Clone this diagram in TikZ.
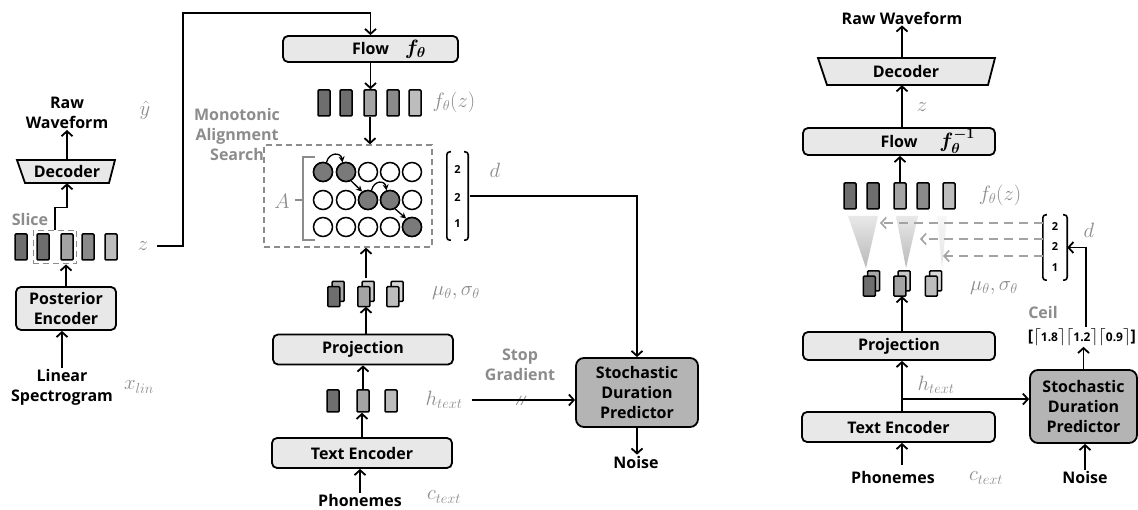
\documentclass[tikz,border=0pt]{standalone}
\usepackage{fontspec}
\setmainfont{Open Sans}
\usepackage{amsmath}
\usetikzlibrary{arrows.meta,fit,calc}
\definecolor{lab}{HTML}{8C8C8C}
\definecolor{boxfill}{HTML}{E8E8E8}
\definecolor{sdpfill}{HTML}{B4B4B4}
\definecolor{bdark}{HTML}{6E6E6E}
\definecolor{bmid}{HTML}{8A8A8A}
\definecolor{blight}{HTML}{A4A4A4}
\definecolor{bpale}{HTML}{BDBDBD}
\definecolor{cfill}{HTML}{7A7A7A}
\newcommand\bxfont{\fontsize{16}{20}\selectfont\bfseries}
\newcommand\mlfont{\fontsize{22}{24}\selectfont}
\newcommand\mystk[4]{%
  \node[inner sep=0pt, minimum width=16pt, minimum height=25pt] (#1) at (#2,#3) {};
  \draw[line width=1.5pt, fill=#4!60!white, rounded corners=1pt] (#1.north east) rectangle ++(-12,20);
  \draw[line width=1.5pt, fill=#4, rounded corners=1pt] (#1.south west) rectangle ++(12,-20);
}
\begin{document}
\begin{tikzpicture}[x=1pt,y=-1pt,
  arr/.style={line width=1.8pt, -{Straight Barb[length=5pt,width=11pt,line width=1.8pt]}},
  box/.style={draw, line width=1.8pt, rounded corners=5pt, fill=boxfill, inner sep=0pt, font=\bxfont, align=center},
  trap/.style={draw, line width=1.8pt, fill=boxfill},
  txt/.style={font=\bxfont, align=center, inner sep=1pt},
  gtxt/.style={txt, text=lab},
  mlab/.style={text=lab, font=\mlfont, inner sep=1pt},
  bar/.style={draw, line width=1.5pt, minimum width=12pt, minimum height=26pt, inner sep=0pt, rounded corners=1pt},
  circ/.style={circle, draw, line width=1.5pt, minimum size=19pt, inner sep=0pt},
  carr/.style={line width=1.3pt, -{Stealth[length=6pt,width=6pt]}},
  dsh/.style={draw=lab, line width=1.3pt, dash pattern=on 6pt off 4pt},
  darr/.style={draw=lab!80, line width=1.6pt, dash pattern=on 9pt off 6pt, -{Straight Barb[length=5pt,width=11pt,line width=1.6pt]}},
  num/.style={font=\fontsize{11}{11}\selectfont\bfseries, inner sep=0pt}
]
\fill[white] (0,0) rectangle (1138,510);
\path[use as bounding box] (0,0) rectangle (1138,510);

%================ LEFT: posterior branch
\node[txt] (rawL) at (67,113) {Raw\\Waveform};
\node[mlab] (yhat) at (145,110) {$\hat{y}$};
\draw[trap] (17,160) -- (115,160) -- (109,183) -- (25,183) -- cycle;
\node[txt, minimum width=80pt, minimum height=23pt, inner sep=0pt] (decL) at (67,171.5) {Decoder};

\node[bar, fill=bdark]  (zb1) at (21,247) {};
\node[bar, fill=bdark]  (zb2) at (43,247) {};
\node[bar, fill=blight] (zb3) at (67,247) {};
\node[bar, fill=bmid]   (zb4) at (88,247) {};
\node[bar, fill=bpale]  (zb5) at (111,247) {};
\node[fit=(zb2)(zb3), dsh, draw, inner sep=3pt] (slc) {};
\node[gtxt] (slicelab) at (30,220) {Slice};
\node[mlab] (zlab) at (143,246) {$z$};

\node[box, minimum width=100pt, minimum height=43pt] (postL) at (66,308.5) {Posterior\\Encoder};
\node[txt] (linL) at (62,387) {Linear\\Spectrogram};
\node[mlab] (xlin) at (139,387) {$x_{lin}$};

%================ MIDDLE: training prior branch
\node[box, minimum width=175pt, minimum height=26pt] (flowL) at (370.5,49) {Flow\rlap{\hspace{16pt}{\fontsize{21}{21}\selectfont$\boldsymbol{f_\theta}$}}};
\node[bar, fill=bdark]  (fb1) at (324,103) {};
\node[bar, fill=bdark]  (fb2) at (346,103) {};
\node[bar, fill=blight] (fb3) at (370,103) {};
\node[bar, fill=bmid]   (fb4) at (393,103) {};
\node[bar, fill=bpale]  (fb5) at (415,103) {};
\node[mlab] (fzL) at (454,102) {$f_\theta(z)$};

\node[dsh, draw, minimum width=168pt, minimum height=102pt] (mas) at (348,196) {};
\node[gtxt] (maslab) at (237,135) {Monotonic\\Alignment\\Search};

\foreach \r/\y in {1/172,2/200,3/227}{
  \foreach \c/\x in {1/323,2/346,3/368,4/390,5/412}{
    \node[circ, fill=white] (c\r\c) at (\x,\y) {};
  }
}
\foreach \n in {11,12,23,24,35}{ \node[circ, fill=cfill] at (c\n) {}; }
\draw[carr] (c11.70) .. controls (329,152) and (341,152) .. (c12.110);
\draw[carr] (c23.70) .. controls (374,180) and (385,180) .. (c24.110);
\draw[carr] (c12.-60) -- (c23.125);
\draw[carr] (c24.-60) -- (c35.125);
\draw[lab, line width=1.4pt] (315,157) -- (303,157) -- (303,240) -- (315,240);
\draw[lab, line width=1.4pt] (303,200) -- (295,200);
\node[mlab] (Alab) at (282,201) {$A$};

\node[inner sep=0pt, minimum width=21pt, minimum height=88pt] (dL) at (457.5,196) {};
\draw[line width=1.6pt, rounded corners=3pt] ([xshift=4pt]dL.north west) -- (dL.north west) -- (dL.south west) -- ([xshift=4pt]dL.south west);
\draw[line width=1.6pt, rounded corners=3pt] ([xshift=-4pt]dL.north east) -- (dL.north east) -- (dL.south east) -- ([xshift=-4pt]dL.south east);
\node[num] (dL1) at (457.5,170) {2};
\node[num] (dL2) at (457.5,198) {2};
\node[num] (dL3) at (457.5,224) {1};
\node[mlab] (dlabL) at (495,170) {$d$};

\mystk{sL1}{336}{294}{bdark}
\mystk{sL2}{366}{294}{blight}
\mystk{sL3}{395}{294}{bpale}
\node[mlab] (muL) at (456,293) {$\mu_\theta,\sigma_\theta$};

\node[box, minimum width=180pt, minimum height=30pt] (projL) at (363,349.5) {Projection};
\node[bar, fill=bdark, minimum height=22pt]  (hb1) at (333,401) {};
\node[bar, fill=blight, minimum height=22pt] (hb2) at (363,401) {};
\node[bar, fill=bpale, minimum height=22pt]  (hb3) at (391,401) {};
\node[mlab] (htL) at (444,400) {$h_{text}$};
\node[box, minimum width=180pt, minimum height=30pt] (teL) at (362,453) {Text Encoder};
\node[txt] (phonL) at (360,500) {Phonemes};
\node[mlab] (ctL) at (444,497) {$c_{text}$};

\node[box, fill=sdpfill, rounded corners=8pt, minimum width=122pt, minimum height=69pt] (sdpL) at (637,392.5) {Stochastic\\Duration\\Predictor};
\node[txt] (noiseL) at (636,462) {Noise};
\node[gtxt] (sglab) at (520,365) {Stop\\Gradient};
\node[text=lab, font=\fontsize{13}{13}\selectfont\itshape, inner sep=0pt] (sgmark) at (521,401) {//};

%================ RIGHT: inference
\node[txt] (rawR) at (902,18) {Raw Waveform};
\draw[trap] (818,58) -- (995,58) -- (988,85) -- (827,85) -- cycle;
\node[txt, minimum width=150pt, minimum height=27pt, inner sep=0pt] (decR) at (906,71.5) {Decoder};
\node[mlab] (zR) at (922,107) {$z$};
\node[box, minimum width=192pt, minimum height=27pt] (flowR) at (899,141.5) {Flow\rlap{\hspace{22pt}{\fontsize{21}{21}\selectfont$\boldsymbol{f_\theta^{-1}}$}}};
\node[bar, fill=bdark]  (fR1) at (850,196) {};
\node[bar, fill=bdark]  (fR2) at (873,196) {};
\node[bar, fill=blight] (fR3) at (900,196) {};
\node[bar, fill=bmid]   (fR4) at (923,196) {};
\node[bar, fill=bpale]  (fR5) at (949,196) {};
\node[mlab] (fzR) at (1000,195) {$f_\theta(z)$};

\shade[top color=gray!18, bottom color=gray!55] (848,216) -- (878,216) -- (866,268) -- cycle;
\shade[top color=gray!18, bottom color=gray!55] (896,216) -- (918,216) -- (906,268) -- cycle;
\shade[top color=gray!6, bottom color=gray!22] (937,216) -- (947,216) -- (942,268) -- cycle;

\node[inner sep=0pt, minimum width=24pt, minimum height=65pt] (dR) at (1055,247.5) {};
\draw[line width=1.6pt, rounded corners=3pt] ([xshift=4pt]dR.north west) -- (dR.north west) -- (dR.south west) -- ([xshift=4pt]dR.south west);
\draw[line width=1.6pt, rounded corners=3pt] ([xshift=-4pt]dR.north east) -- (dR.north east) -- (dR.south east) -- ([xshift=-4pt]dR.south east);
\node[num] (dR1) at (1055,227) {2};
\node[num] (dR2) at (1055,247) {2};
\node[num] (dR3) at (1055,268) {1};
\node[mlab] (dlabR) at (1089,230) {$d$};
\coordinate (t1) at (880,223);
\coordinate (t2) at (920,239);
\coordinate (t3) at (943,256);

\mystk{sR1}{871.5}{283.5}{bdark}
\mystk{sR2}{902}{283.5}{blight}
\mystk{sR3}{933.5}{283.5}{bpale}
\node[mlab] (muR) at (994,288) {$\mu_\theta,\sigma_\theta$};

\node[box, minimum width=192pt, minimum height=28pt] (projR) at (899,346) {Projection};
\node[mlab] (htR) at (936,385) {$h_{text}$};
\node[box, minimum width=193pt, minimum height=30pt] (teR) at (898.5,427) {Text Encoder};
\node[txt] (phonR) at (893,477) {Phonemes};
\node[mlab] (ctR) at (986,478) {$c_{text}$};
\node[box, fill=sdpfill, rounded corners=8pt, minimum width=107pt, minimum height=73pt] (sdpR) at (1083.5,406.5) {Stochastic\\Duration\\Predictor};
\node[txt] (noiseR) at (1085,477) {Noise};
\node[gtxt] (ceillab) at (1043,313) {Ceil};
\node[font=\bfseries\fontsize{16}{16}\selectfont, inner sep=1pt] (ceilR) at (1082,337) {[$\lceil${\fontsize{12}{12}\selectfont 1.8}$\rceil\lceil${\fontsize{12}{12}\selectfont 1.2}$\rceil\lceil${\fontsize{12}{12}\selectfont 0.9}$\rceil$]};

%================ CONNECTORS
% left
\draw[arr] (decL.north) -- (rawL.south);
\draw[arr] (slc.north) -- ++(0,-22) -| (decL.south);
\draw[arr] (postL.north) -- (postL.north |- slc.south);
\draw[arr] (linL.north) -- (linL.north |- postL.south);
\coordinate (zbend) at (183,13);
\draw[arr] ([xshift=8pt]zlab.east) -| (zbend) -| (flowL.north);
% middle
\draw[arr] (flowL.south) -- (flowL.south |- fb3.north);
\draw[arr] (fb3.south) -- (fb3.south |- mas.north);
\draw[arr] ([yshift=3pt]sL2.north) -- (sL2.north |- mas.south);
\draw[arr] (sL2.south |- projL.north) -- (sL2.south);
\draw[arr] (hb2.north) -- (hb2.north |- projL.south);
\draw[arr] (teL.north) -- (teL.north |- hb2.south);
\draw[arr] (phonL.north) -- (phonL.north |- teL.south);
\draw[arr] ([xshift=2pt]dL.east) -| (sdpL.north);
\draw[arr] ([xshift=8pt]htL.east) -- (htL.east -| sdpL.west);
\draw[arr] (sdpL.south) -- (sdpL.south |- noiseL.north);
% right
\draw[arr] (rawR.south |- decR.north) -- (rawR.south);
\draw[arr] (flowR.north -| rawR.south) -- (rawR.south |- decR.south);
\draw[arr] (fR3.north) -- (fR3.north |- flowR.south);
\draw[darr] (dR.west |- t1) -- (t1);
\draw[darr] (dR.west |- t2) -- (t2);
\draw[darr] (dR.west |- t3) -- (t3);
\draw[arr] (sR2.south |- projR.north) -- (sR2.south);
\draw[arr] (teR.north -| sR2.south) -- (sR2.south |- projR.south);
\coordinate (hbr) at ($(teR.north -| sR2.south)+(0,-12)$);
\draw[arr] (hbr) -- (hbr -| sdpR.west);
\draw[arr] (teR.south -| sR2.south) ++(0,22) -- (teR.south -| sR2.south);
\draw[arr] (noiseR.north) -- (noiseR.north |- sdpR.south);
\draw[arr] (sdpR.north) -- (sdpR.north |- ceilR.south);
\draw[arr] ([xshift=4pt]ceilR.north) |- (dR.east);
\end{tikzpicture}
\end{document}
